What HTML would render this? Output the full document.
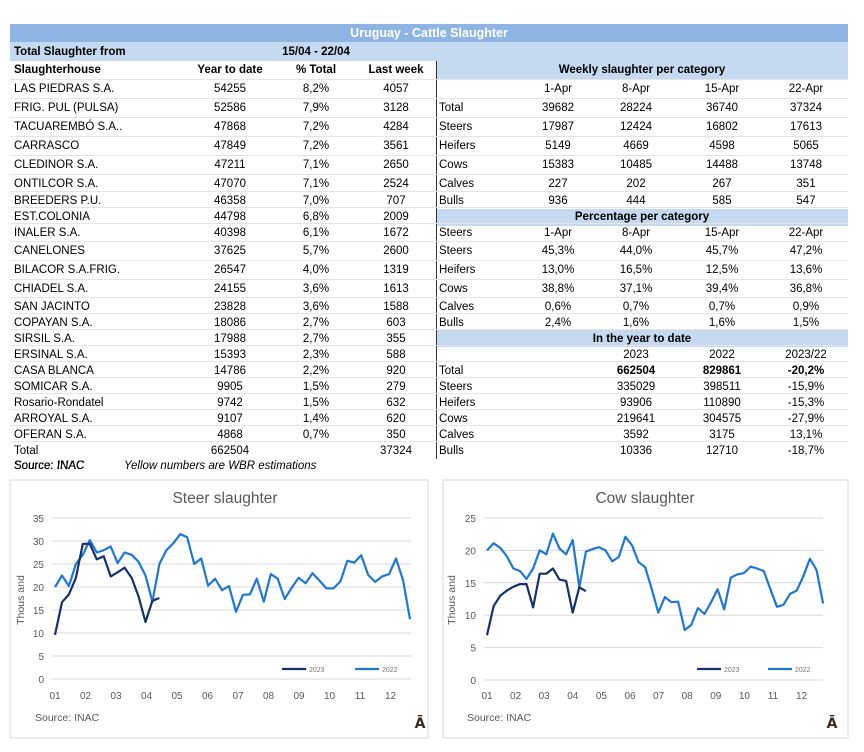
<!DOCTYPE html>
<html><head><meta charset="utf-8"><style>
body{margin:0;width:864px;height:752px;background:#fff;font-family:"Liberation Sans",Arial,sans-serif;position:relative;overflow:hidden;color:#000}
.t{position:absolute;font-size:11.5px;white-space:nowrap;line-height:14px}
.c{transform:translateX(-50%)}
.b{font-weight:bold}
.band{position:absolute}
</style></head><body>
<div class="band" style="left:10px;top:24px;width:838px;height:18px;background:#8db4e2"></div>
<div class="t b c" style="left:429px;top:26px;color:#fff;font-size:12.5px">Uruguay - Cattle Slaughter</div>
<div class="band" style="left:10px;top:42px;width:838px;height:19px;background:#c5d9f1"></div>
<div class="band" style="left:436px;top:61px;width:412px;height:18px;background:#c5d9f1"></div>
<div class="band" style="left:436px;top:209px;width:412px;height:17px;background:#c5d9f1"></div>
<div class="band" style="left:436px;top:330px;width:412px;height:17px;background:#c5d9f1"></div>
<div class="band" style="left:436px;top:61px;width:1px;height:398px;background:#333"></div>
<div id="tbl"></div>
<svg id="ch" width="864" height="752" style="position:absolute;left:0;top:0"></svg>
<script>
var h='';
function T(x,y,s,cls){h+='<div class="t '+(cls||'')+'" style="left:'+x+'px;top:'+(y-7)+'px">'+s+'</div>';}
T(14,52,'Total Slaughter from','b');T(316,52,'15/04 - 22/04','b c');
T(14,70,'Slaughterhouse','b');T(230,70,'Year to date','b c');T(316,70,'% Total','b c');T(396,70,'Last week','b c');
var L=[['LAS PIEDRAS S.A.','54255','8,2%','4057'],['FRIG. PUL (PULSA)','52586','7,9%','3128'],['TACUAREMBÓ S.A..','47868','7,2%','4284'],['CARRASCO','47849','7,2%','3561'],['CLEDINOR S.A.','47211','7,1%','2650'],['ONTILCOR S.A.','47070','7,1%','2524'],['BREEDERS P.U.','46358','7,0%','707'],['EST.COLONIA','44798','6,8%','2009'],['INALER S.A.','40398','6,1%','1672'],['CANELONES','37625','5,7%','2600'],['BILACOR S.A.FRIG.','26547','4,0%','1319'],['CHIADEL S.A.','24155','3,6%','1613'],['SAN JACINTO','23828','3,6%','1588'],['COPAYAN S.A.','18086','2,7%','603'],['SIRSIL S.A.','17988','2,7%','355'],['ERSINAL S.A.','15393','2,3%','588'],['CASA BLANCA','14786','2,2%','920'],['SOMICAR S.A.','9905','1,5%','279'],['Rosario-Rondatel','9742','1,5%','632'],['ARROYAL S.A.','9107','1,4%','620'],['OFERAN S.A.','4868','0,7%','350'],['Total','662504','','37324']];
var Y=[89,108,127,146,165,184,201,217,233,251,270,289,307,323,339,355,371,387,403,419,435,451];
for(var i=0;i<L.length;i++){var y=Y[i];h+='<div class="band" style="left:10px;top:'+(y-10)+'px;width:838px;height:1px;background:#e4e4e4"></div>';T(14,y,L[i][0]);T(230,y,L[i][1],'c');T(316,y,L[i][2],'c');T(396,y,L[i][3],'c');}
T(14,466,'Source: INAC','');h=h.replace('>Source: INAC<',' style="font-style:italic">Source: INAC<');
h+='<div class="t" style="left:14px;top:459px;font-style:italic">Source: INAC</div><div class="t" style="left:124px;top:459px;font-style:italic">Yellow numbers are WBR estimations</div>';
var X=[558,636,722,806];
function R(y,lab,v,bold){T(439,y,lab);for(var j=0;j<v.length;j++)T(X[j+(4-v.length)],y,v[j],'c'+(bold&&j<v.length?' b':''));}
T(642,70,'Weekly slaughter per category','b c');
R(89,'',['1-Apr','8-Apr','15-Apr','22-Apr']);
R(108,'Total',['39682','28224','36740','37324']);R(127,'Steers',['17987','12424','16802','17613']);R(146,'Heifers',['5149','4669','4598','5065']);R(165,'Cows',['15383','10485','14488','13748']);R(184,'Calves',['227','202','267','351']);R(201,'Bulls',['936','444','585','547']);
T(642,217,'Percentage per category','b c');
R(233,'Steers',['1-Apr','8-Apr','15-Apr','22-Apr']);R(251,'Steers',['45,3%','44,0%','45,7%','47,2%']);R(270,'Heifers',['13,0%','16,5%','12,5%','13,6%']);R(289,'Cows',['38,8%','37,1%','39,4%','36,8%']);R(307,'Calves',['0,6%','0,7%','0,7%','0,9%']);R(323,'Bulls',['2,4%','1,6%','1,6%','1,5%']);
T(642,339,'In the year to date','b c');
R(355,'',['2023','2022','2023/22']);R(371,'Total',['662504','829861','-20,2%'],1);R(387,'Steers',['335029','398511','-15,9%']);R(403,'Heifers',['93906','110890','-15,3%']);R(419,'Cows',['219641','304575','-27,9%']);R(435,'Calves',['3592','3175','13,1%']);R(451,'Bulls',['10336','12710','-18,7%']);
document.getElementById('tbl').innerHTML=h;
// charts
var s='';
function chart(o){
 s+='<rect x="'+o.bx+'" y="480" width="'+o.bw+'" height="258" fill="none" stroke="#d9d9d9"/>';
 s+='<text x="'+o.tx+'" y="503" font-size="15.5" fill="#595959" text-anchor="middle" font-family="Liberation Sans">'+o.title+'</text>';
 for(var v=0;v<=o.max;v+=5){var y=o.y0-(o.y0-o.yt)*v/o.max;s+='<line x1="'+o.gx1+'" x2="'+o.gx2+'" y1="'+y+'" y2="'+y+'" stroke="#d9d9d9"/>';s+='<text x="'+o.lx+'" y="'+(y+4)+'" font-size="10" fill="#595959" text-anchor="end" font-family="Liberation Sans">'+v+'</text>';}
 for(var m=0;m<12;m++)s+='<text x="'+(o.mx+m*o.ms)+'" y="699" font-size="10" fill="#595959" text-anchor="middle" font-family="Liberation Sans">'+(m<9?'0':'')+(m+1)+'</text>';
 s+='<text transform="translate('+o.ax+',600) rotate(-90)" font-size="10.5" fill="#595959" text-anchor="middle" font-family="Liberation Sans">Thous and</text>';
 function pl(d,c){var p=d.map(function(v,i){return (o.x0+i*o.st).toFixed(1)+','+(o.y0-(o.y0-o.yt)*v/o.max).toFixed(1)}).join(' ');s+='<polyline points="'+p+'" fill="none" stroke="'+c+'" stroke-width="2.2" stroke-linejoin="round"/>';}
 pl(o.a,'#1e78d2');pl(o.b,'#16306b');
 s+='<line x1="'+o.lg1+'" x2="'+(o.lg1+24)+'" y1="669" y2="669" stroke="#16306b" stroke-width="2.2"/><text x="'+(o.lg1+27)+'" y="672" font-size="7" fill="#777" font-family="Liberation Sans">2023</text>';
 s+='<line x1="'+o.lg2+'" x2="'+(o.lg2+24)+'" y1="669" y2="669" stroke="#1e78d2" stroke-width="2.2"/><text x="'+(o.lg2+27)+'" y="672" font-size="7" fill="#777" font-family="Liberation Sans">2022</text>';
 s+='<text x="'+o.sx+'" y="721" font-size="10.5" fill="#595959" font-family="Liberation Sans">Source: INAC</text>';
 s+='<text x="'+o.ix+'" y="728" font-size="14" font-weight="bold" fill="#3a2a20" text-anchor="middle" font-family="DejaVu Sans">Ā</text>';
}
chart({bx:10,bw:418,tx:225,title:'Steer slaughter',max:35,y0:679,yt:518,gx1:52,gx2:411,lx:44,mx:55,ms:30.5,ax:24,x0:55,st:6.96,lg1:282,lg2:355,sx:35,ix:420,
a:[20,22.5,20.2,25,27,30.2,27.5,28,28.8,25.2,27.5,27,25.5,22.5,16.8,25,28,29.5,31.5,30.8,25,26.2,20.3,21.8,19.3,20.2,14.6,18.3,18.4,21.8,16.8,22.8,21.8,17.4,19.8,22,20.8,23,21.4,19.7,19.7,21.2,25.7,25.3,26.9,22.6,21.1,22.3,22.8,26.2,21.5,13],
b:[9.6,16.7,18.4,22,29.4,29.4,26,26.7,22.3,23.2,24.2,22,18,12.4,17,17.6]});
chart({bx:443,bw:405,tx:645,title:'Cow slaughter',max:25,y0:680,yt:518,gx1:484,gx2:823,lx:476,mx:487,ms:28.6,ax:455,x0:487,st:6.59,lg1:697,lg2:768,sx:467,ix:832,
a:[20,21.1,20.4,19.1,17.2,16.8,15.6,17.2,20,19.4,22.6,20.3,19.4,21.6,14.3,19.8,20.2,20.5,20,18.3,19,22.1,20.8,18.2,17.4,14,10.4,12.8,12,12.1,7.7,8.5,11.1,10.2,12,14,10.9,15.8,16.3,16.5,17.5,17.2,16.8,14,11.3,11.6,13.3,13.8,16,18.7,17,11.8],
b:[6.9,11.4,13,13.8,14.4,14.8,14.8,11.2,16.4,16.4,17.2,15.5,15.3,10.4,14.3,13.7]});
document.getElementById('ch').innerHTML=s;
</script>
</body></html>
